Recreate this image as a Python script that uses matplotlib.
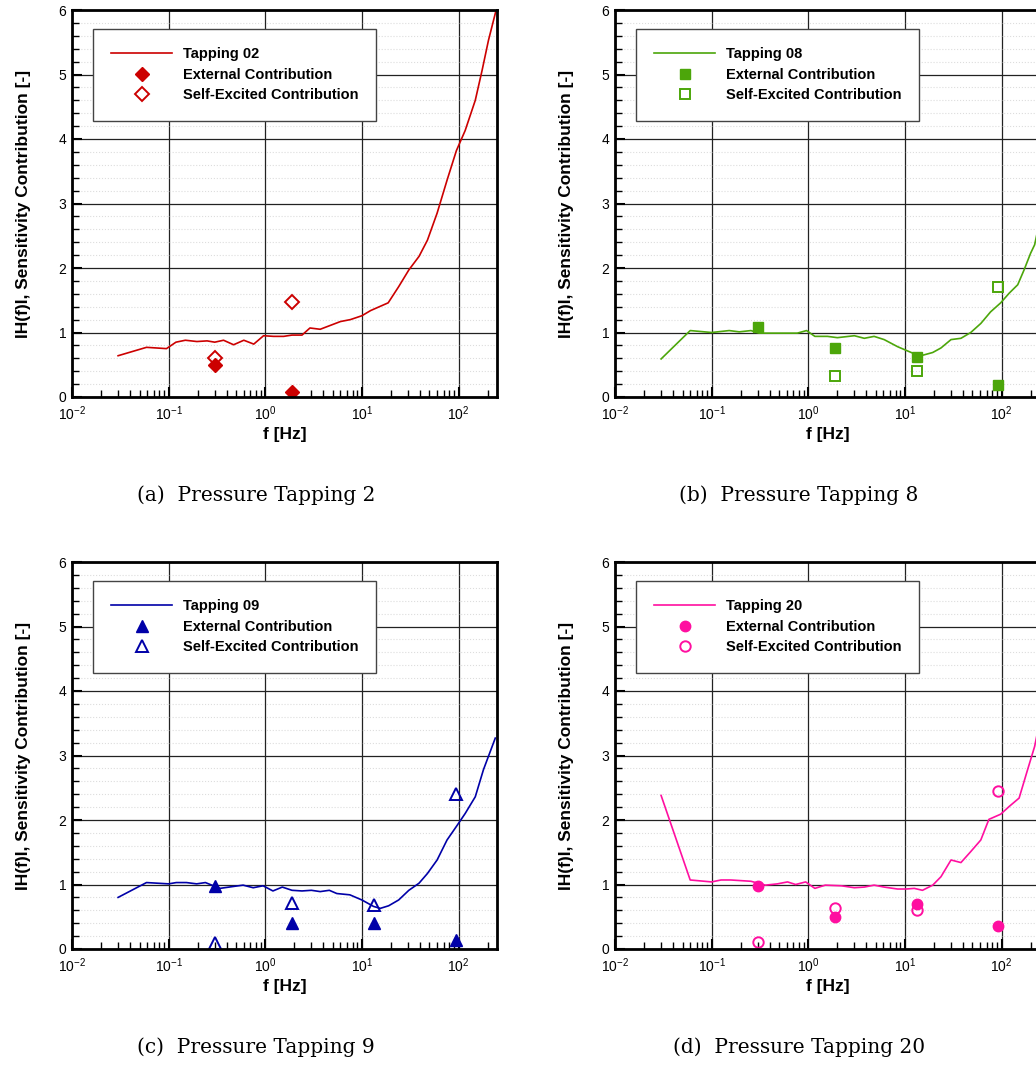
import numpy as np
import matplotlib
matplotlib.use('Agg')
import matplotlib.pyplot as plt
from matplotlib.ticker import MultipleLocator, LogLocator, NullFormatter

plt.rcParams['font.family'] = ['Liberation Sans', 'DejaVu Sans']
plt.rcParams['mathtext.default'] = 'regular'

# Tapping 02
f_02 = [0.030, 0.059, 0.095, 0.119, 0.149, 0.196, 0.25, 0.30, 0.37, 0.47, 0.60, 0.76, 0.96,
        1.22, 1.55, 1.89, 2.4, 2.9, 3.7, 6.0, 7.6, 10, 12.3, 18.7, 24, 30.6, 39, 47.6, 60,
        76, 95, 117, 149, 175, 204, 245]
h_02 = [0.64, 0.77, 0.75, 0.85, 0.88, 0.86, 0.87, 0.85, 0.88, 0.81, 0.88, 0.82, 0.95,
        0.94, 0.94, 0.96, 0.96, 1.07, 1.05, 1.17, 1.20, 1.26, 1.34, 1.46, 1.71, 1.97, 2.18,
        2.43, 2.85, 3.36, 3.82, 4.13, 4.60, 5.06, 5.53, 6.0]
ext_f_02 = [0.3, 1.9]
ext_02 = [0.50, 0.07]
self_f_02 = [0.3, 1.9]
self_02 = [0.60, 1.48]

# Tapping 08
f_08 = [0.030, 0.060, 0.10, 0.152, 0.193, 0.255, 0.31, 0.48, 0.77, 0.96, 1.17, 1.58, 2.0,
        3.0, 3.8, 4.8, 6.1, 8.4, 12.5, 15.5, 19.4, 23.6, 30, 38, 48, 61, 77, 98, 120, 147,
        171, 200, 220, 250]
h_08 = [0.59, 1.03, 1.00, 1.03, 1.01, 1.03, 0.99, 0.99, 0.99, 1.03, 0.94, 0.94, 0.92,
        0.95, 0.91, 0.94, 0.89, 0.78, 0.67, 0.65, 0.69, 0.76, 0.89, 0.91, 1.00, 1.14, 1.32,
        1.46, 1.61, 1.74, 1.97, 2.23, 2.36, 2.75]
ext_f_08 = [0.3, 1.9, 13.3, 93]
ext_08 = [1.09, 0.76, 0.62, 0.19]
self_f_08 = [1.9, 13.3, 93]
self_08 = [0.32, 0.41, 1.70]

# Tapping 09
f_09 = [0.030, 0.059, 0.10, 0.12, 0.153, 0.195, 0.24, 0.28, 0.34, 0.47, 0.59, 0.75, 0.95,
        1.2, 1.5, 1.89, 2.4, 3.0, 3.7, 4.6, 5.5, 7.5, 10, 13.2, 15.5, 18.9, 24, 30.6, 39,
        47.6, 60, 76, 95, 117, 149, 181, 240]
h_09 = [0.80, 1.03, 1.01, 1.03, 1.03, 1.01, 1.03, 0.99, 0.94, 0.97, 0.99, 0.95, 0.98,
        0.90, 0.96, 0.91, 0.90, 0.91, 0.89, 0.91, 0.86, 0.84, 0.76, 0.66, 0.63, 0.67, 0.76,
        0.91, 1.02, 1.17, 1.38, 1.69, 1.90, 2.10, 2.36, 2.78, 3.27]
ext_f_09 = [0.3, 1.9, 13.2, 95]
ext_09 = [0.97, 0.41, 0.40, 0.14]
self_f_09 = [0.3, 1.9, 13.2, 95]
self_09 = [0.10, 0.72, 0.68, 2.41]

# Tapping 20
f_20 = [0.030, 0.060, 0.10, 0.125, 0.158, 0.255, 0.36, 0.48, 0.61, 0.74, 0.94, 1.17, 1.5,
        2.2, 3.0, 3.8, 4.8, 6.1, 8.4, 10.3, 12.5, 15.2, 19.4, 23.6, 30, 38, 48, 61, 74, 98,
        120, 152, 186, 220, 250]
h_20 = [2.38, 1.07, 1.04, 1.07, 1.07, 1.05, 0.99, 1.01, 1.04, 1.00, 1.04, 0.94, 0.99,
        0.98, 0.95, 0.96, 0.99, 0.96, 0.93, 0.93, 0.94, 0.91, 0.99, 1.12, 1.38, 1.34, 1.51,
        1.69, 2.01, 2.09, 2.21, 2.34, 2.78, 3.14, 3.55]
ext_f_20 = [0.3, 1.9, 13.3, 93]
ext_20 = [0.98, 0.50, 0.69, 0.35]
self_f_20 = [0.3, 1.9, 13.3, 93]
self_20 = [0.11, 0.64, 0.60, 2.45]

panels = [
    ('Tapping 02', f_02, h_02, ext_f_02, ext_02, self_f_02, self_02, '#cc0000', 'D', 7,
     '(a)  Pressure Tapping 2'),
    ('Tapping 08', f_08, h_08, ext_f_08, ext_08, self_f_08, self_08, '#4ca60a', 's', 6.5,
     '(b)  Pressure Tapping 8'),
    ('Tapping 09', f_09, h_09, ext_f_09, ext_09, self_f_09, self_09, '#0000a8', '^', 9,
     '(c)  Pressure Tapping 9'),
    ('Tapping 20', f_20, h_20, ext_f_20, ext_20, self_f_20, self_20, '#ff0fa0', 'o', 7.5,
     '(d)  Pressure Tapping 20'),
]

W, H = 1036, 1065
fig = plt.figure(figsize=(W / 100, H / 100), dpi=100)

# pixel layout of the four axes (left, top)
boxes = [(72, 10), (615, 10), (72, 562), (615, 562)]
aw, ah = 425, 387

for (name, f, h, ef, ev, sf, sv, col, mk, ms, cap), (x0, y0) in zip(panels, boxes):
    ax = fig.add_axes([x0 / W, 1 - (y0 + ah) / H, aw / W, ah / H])
    ax.plot(f, h, color=col, lw=1.2, label=name)
    ax.plot(ef, ev, ls='none', marker=mk, ms=ms, color=col, mec=col,
            label='External Contribution')
    ax.plot(sf, sv, ls='none', marker=mk, ms=ms, mfc='none', mec=col, mew=1.4,
            label='Self-Excited Contribution')
    ax.set_xscale('log')
    ax.set_xlim(0.01, 250)
    ax.set_ylim(0, 6)
    ax.yaxis.set_major_locator(MultipleLocator(1))
    ax.yaxis.set_minor_locator(MultipleLocator(0.2))
    ax.xaxis.set_major_locator(LogLocator(base=10, numticks=10))
    ax.xaxis.set_minor_locator(LogLocator(base=10, subs=np.arange(2, 10), numticks=20))
    ax.xaxis.set_minor_formatter(NullFormatter())
    ax.grid(which='major', color='#222222', lw=0.9)
    ax.yaxis.grid(which='minor', color='#dddddd', ls=':', lw=0.8)
    ax.set_axisbelow(True)
    ax.tick_params(which='both', direction='in', top=False, right=False, labelsize=10)
    ax.tick_params(axis='x', pad=5)
    ax.tick_params(axis='y', pad=4)
    ax.tick_params(which='major', length=7, width=1.5)
    ax.tick_params(which='minor', length=5, width=1)
    for s in ax.spines.values():
        s.set_linewidth(2)
    ax.set_xlabel('f [Hz]', fontsize=12.5, fontweight='bold', labelpad=3)
    ax.set_ylabel('IH(f)I, Sensitivity Contribution [-]', fontsize=12.5,
                  fontweight='bold', labelpad=20)
    leg = ax.legend(loc='upper left', bbox_to_anchor=(0.049, 0.951), fancybox=False,
                    edgecolor='#444444', framealpha=1, borderpad=1.25, borderaxespad=0,
                    handlelength=4.2, handletextpad=0.7, labelspacing=0.45,
                    prop={'weight': 'bold', 'size': 10.5})
    leg.get_frame().set_linewidth(1.0)
    cx = (x0 + 184) / W
    fig.text(cx, 1 - (y0 + 485) / H, cap, ha='center', va='center', fontsize=14.5,
             family=['DejaVu Serif'])

fig.savefig('out.png', dpi=100)
